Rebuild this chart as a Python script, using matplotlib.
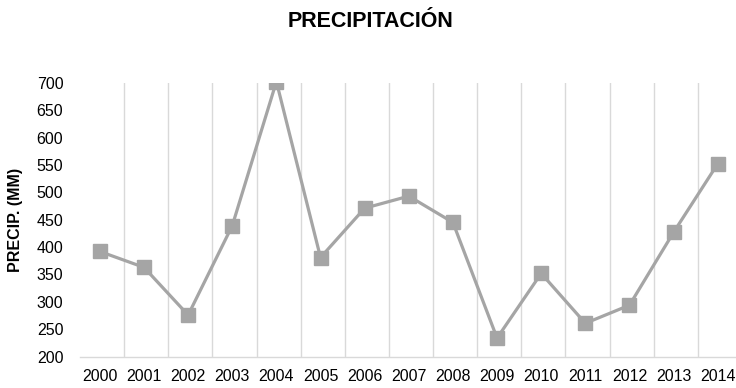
import matplotlib
matplotlib.use('Agg')
import matplotlib.pyplot as plt

# datos de precipitación anual
anios = ['2000', '2001', '2002', '2003', '2004', '2005', '2006', '2007',
         '2008', '2009', '2010', '2011', '2012', '2013', '2014']
precip = [392, 363, 276, 439, 702, 381, 471, 493, 445, 234, 352, 261, 294, 427, 552]
yticks = [200, 250, 300, 350, 400, 450, 500, 550, 600, 650, 700]

plt.rcParams['font.family'] = ['Liberation Sans', 'DejaVu Sans']

fig = plt.figure(figsize=(7.36, 3.88), dpi=100)
# el área de trazado se sale un poco por la derecha
ax = fig.add_axes([80 / 736, 31.3 / 388, 662 / 736, 274 / 388])

x = list(range(len(anios)))
ax.plot(x, precip, color='#a5a5a5', linewidth=2.3, marker='s',
        markersize=9.5, markerfacecolor='#a5a5a5', markeredgecolor='#a5a5a5', zorder=3)

ax.set_xlim(-0.45, len(anios) - 0.45)
ax.set_ylim(200, 700)
ax.set_yticks(yticks)
ax.set_xticks(x)
ax.set_xticklabels(anios)

# líneas verticales entre categorías
for b in range(1, len(anios)):
    ax.axvline(b - 0.45, color='#d9d9d9', linewidth=1.0, zorder=1)

for s in ['top', 'right', 'left']:
    ax.spines[s].set_visible(False)
ax.spines['bottom'].set_color('#d9d9d9')
ax.spines['bottom'].set_linewidth(1.0)

ax.tick_params(axis='both', length=0, labelsize=11.5, colors='#000000')
ax.tick_params(axis='y', pad=12)
ax.tick_params(axis='x', pad=9)

fig.text(16 / 736, 1 - 220 / 388, 'PRECIP. (MM)', rotation=90, ha='center', va='center',
         fontsize=11.5, fontweight='bold')
fig.text(0.503, 0.945, 'PRECIPITACIÓN', ha='center', va='center',
         fontsize=15.5, fontweight='bold')

fig.savefig('out.png', dpi=100)
